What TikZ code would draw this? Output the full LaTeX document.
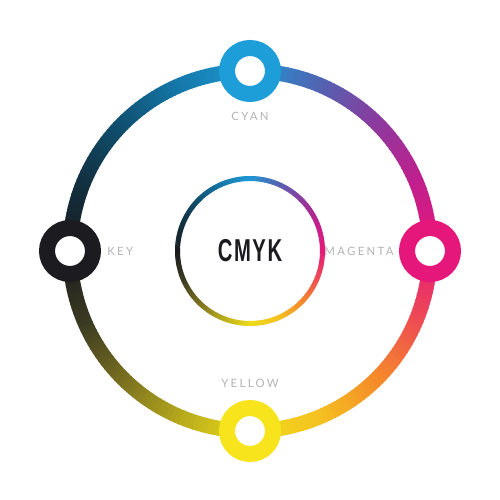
\documentclass[tikz,border=0pt]{standalone}
\usepackage{fontspec}
\usetikzlibrary{positioning}
\newfontfamily\lblfont[LetterSpace=20]{Lato}
\newfontfamily\titlefont[LetterSpace=8]{Liberation Sans}
\definecolor{mag}{HTML}{E5177C}
\definecolor{magpur}{HTML}{C0208D}
\definecolor{pur}{HTML}{8B3A9E}
\definecolor{purcy}{HTML}{4F66B3}
\definecolor{cya}{HTML}{1D98D4}
\definecolor{cyadk}{HTML}{1578AA}
\definecolor{navy}{HTML}{0F4F70}
\definecolor{navyk}{HTML}{12303F}
\definecolor{keyk}{HTML}{1B1B1F}
\definecolor{kol}{HTML}{3A3A22}
\definecolor{olive}{HTML}{7A7020}
\definecolor{oly}{HTML}{B8AB1C}
\definecolor{yel}{HTML}{EEDC1A}
\definecolor{yelor}{HTML}{F5C021}
\definecolor{orng}{HTML}{F5882A}
\definecolor{ormag}{HTML}{EE4A55}
\definecolor{cyannode}{HTML}{1E9ED9}
\definecolor{magnode}{HTML}{E6177B}
\definecolor{yelnode}{HTML}{F7E41C}
\definecolor{keynode}{HTML}{1C1B20}
\definecolor{lblgray}{HTML}{B4B4B4}
\tikzset{dot/.style={circle,draw,fill=white,line width=0.32cm,minimum size=0.92cm,inner sep=0pt},
  lbl/.style={text=lblgray,inner sep=0pt,font=\lblfont\fontsize{6.5}{7}\selectfont}}
% ring whose colour runs round it: #1 radius, #2 line width
\newcommand{\cmykring}[2]{%
  \foreach \s/\ca/\cb in {0/mag/magpur,22.5/magpur/pur,45/pur/purcy,67.5/purcy/cya,
      90/cya/cyadk,112.5/cyadk/navy,135/navy/navyk,157.5/navyk/keyk,
      180/keyk/kol,202.5/kol/olive,225/olive/oly,247.5/oly/yel,
      270/yel/yelor,292.5/yelor/orng,315/orng/ormag,337.5/ormag/mag}{
    \foreach \t in {0,...,14}{
      \pgfmathtruncatemacro\p{round(100*\t/15)}
      \draw[line width=#2, draw=\cb!\p!\ca] (\s+1.5*\t:#1) arc[start angle=\s+1.5*\t, delta angle=1.8, radius=#1];
    }
  }}
\begin{document}
\begin{tikzpicture}
\fill[white] (-5,-4.98) rectangle (5,5.02);
\useasboundingbox (-5,-4.98) rectangle (5,5.02);

\cmykring{3.6}{0.3cm}
\cmykring{1.45}{0.1cm}

\node[text=keyk] (title) at (0,0) {\scalebox{0.64}[1]{\titlefont\bfseries\fontsize{18}{18}\selectfont CMYK}};

\node[dot,draw=cyannode] (cyan) at (90:3.6) {};
\node[dot,draw=magnode] (magenta) at (0:3.6) {};
\node[dot,draw=yelnode] (yellow) at (270:3.6) {};
\node[dot,draw=keynode] (key) at (180:3.6) {};

\node[lbl, below=0.2cm of cyan] (cyanlbl) {CYAN};
\node[lbl, left=0.1cm of magenta] (maglbl) {MAGENTA};
\node[lbl, above=0.25cm of yellow] (yellbl) {YELLOW};
\node[lbl, right=0.12cm of key] (keylbl) {KEY};
\end{tikzpicture}
\end{document}
